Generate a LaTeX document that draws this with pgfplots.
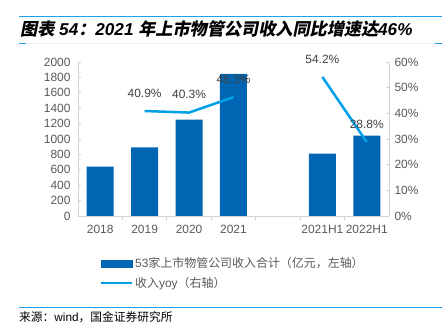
\documentclass[border=0pt]{standalone}
\usepackage{pgfplots}
\pgfplotsset{compat=1.18}
\usepackage{fontspec}
\setmainfont{Liberation Sans}
\newfontfamily\cjk{Noto Sans CJK SC}
\newfontfamily\cjkti{Noto Sans CJK SC}[FakeSlant=0.2, BoldFeatures={FakeSlant=0.2}]
\definecolor{barblue}{RGB}{0,102,179}
\definecolor{lineblue}{RGB}{0,160,233}
\definecolor{axgray}{RGB}{210,210,210}
\definecolor{txtgray}{RGB}{89,89,89}
\definecolor{rulblue}{RGB}{30,160,230}
\begin{document}
\begin{tikzpicture}
\path[use as bounding box] (0bp,0bp) rectangle (442bp,324bp);
% header
\draw[rulblue, line width=1bp] (19bp,307bp) -- (442bp,307bp);
\draw[black!6, line width=0.6bp] (19bp,280.5bp) -- (442bp,280.5bp);
\draw[rulblue, line width=1bp] (19bp,280.5bp) -- (26bp,280.5bp);
\draw[rulblue, line width=1bp] (435bp,280.5bp) -- (442bp,280.5bp);
\node[anchor=west, inner sep=0] at (20bp,295bp) {\fontsize{17.2}{17.2}\selectfont\bfseries\itshape {\cjkti\upshape 图表} 54{\cjkti\upshape ：}2021 {\cjkti\upshape 年上市物管公司收入同比增速达}46\%};
% footer
\draw[rulblue, line width=1.2bp] (19bp,16.5bp) -- (442bp,16.5bp);
\node[anchor=west, inner sep=0] at (19bp,7bp) {\fontsize{11.8}{11.8}\selectfont{\cjk 来源：}wind{\cjk ，国金证券研究所}};

\pgfplotsset{
  common/.style={
    at={(78bp,108bp)}, anchor=south west, scale only axis,
    width=311bp, height=154bp,
    xmin=-0.5, xmax=6.5,
    axis line style={axgray, line width=0.8bp},
    tick style={axgray, line width=0.8bp},
    ticklabel style={font=\fontsize{12}{12}\selectfont, text=txtgray},
    /pgf/number format/assume math mode=true,
    /pgf/number format/1000 sep={},
  }
}
\begin{axis}[common,
  ymin=0, ymax=2000, ytick={0,200,...,2000},
  axis y line*=left, axis x line*=bottom,
  xtick={0,1,2,3,5,6},
  xticklabels={2018,2019,2020,2021,2021H1,2022H1},
  minor xtick={0.5,1.5,2.5,3.5,4.5,5.5},
  major x tick style={draw=none},
  minor tick length=4bp,
  xtick align=outside, ytick align=inside,
  major tick length=3bp,
  yticklabel style={xshift=-4bp},
  xticklabel style={yshift=-3bp},
]
\addplot[ybar, bar width=27bp, fill=barblue, draw=none] coordinates {
 (0,640) (1,890) (2,1250) (3,1845) (5,810) (6,1045)};
\end{axis}
\begin{axis}[common,
  ymin=0, ymax=60, ytick={0,10,...,60},
  yticklabel={\pgfmathprintnumber{\tick}\%},
  axis y line*=right, axis x line=none,
  ytick align=inside, major tick length=3bp,
  yticklabel style={xshift=2bp},
  legend style={at={(0.0707,-0.255)}, anchor=north west, draw=none, fill=none,
    inner sep=0pt, row sep=4bp, font=\fontsize{12}{12}\selectfont, text=txtgray,
    cells={anchor=west}},
]
\addlegendimage{legend image code/.code={\fill[barblue] (0bp,-3.5bp) rectangle (31bp,3.5bp);}}
\addlegendentry{53{\cjk 家上市物管公司收入合计（亿元，左轴）}}
\addplot[lineblue, line width=2.5bp, unbounded coords=jump,
  legend image code/.code={\draw[lineblue, line width=2bp] (0bp,0bp) -- (31bp,0bp);},
  point meta=y,
  nodes near coords={\pgfmathprintnumber[fixed,precision=1,fixed zerofill]{\pgfplotspointmeta}\%},
  nodes near coords style={anchor=center, inner sep=0pt, yshift=18bp, font=\fontsize{12}{12}\selectfont, text=black!75},
] coordinates {(1,40.9) (2,40.3) (3,46.3) (4,nan) (5,54.2) (6,28.8)};
\addlegendentry{{\cjk 收入}yoy{\cjk （右轴）}}
\end{axis}
\end{tikzpicture}
\end{document}
